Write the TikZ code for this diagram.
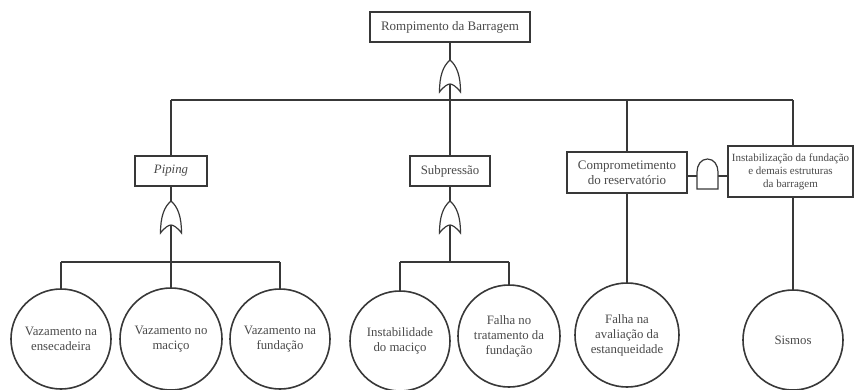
\documentclass[tikz,border=0pt]{standalone}
\usepackage{fontspec}
\setmainfont{Liberation Serif}
\definecolor{ln}{HTML}{383838}
\definecolor{tx}{HTML}{4A4A4A}
\tikzset{
  conn/.style={draw=ln, line width=1.8pt},
  gateline/.style={draw=ln, line width=1.2pt, fill=white},
  evbox/.style={draw=ln, line width=1.8pt, rectangle, fill=white, text=tx, inner sep=0pt, align=center},
  basic/.style={draw=ln, line width=1.6pt, circle, fill=white, text=tx, inner sep=0pt, align=center,
                font=\fontsize{12.8}{15}\selectfont},
}
\begin{document}
\begin{tikzpicture}[x=1pt,y=-1pt]
\useasboundingbox (0,0) rectangle (854,389);
% event boxes
\node[evbox, minimum width=160pt, minimum height=30pt, font=\fontsize{13}{15}\selectfont] (top) at (450,27) {Rompimento da Barragem};
\node[evbox, minimum width=72pt, minimum height=30pt, font=\fontsize{12.8}{15}\selectfont\itshape] (pip) at (171,171) {Piping};
\node[evbox, minimum width=80pt, minimum height=30pt, font=\fontsize{12.8}{15}\selectfont] (sub) at (450,171) {Subpressão};
\node[evbox, minimum width=120pt, minimum height=41pt, font=\fontsize{13}{15}\selectfont] (comp) at (627,172.5) {Comprometimento\\do reservatório};
\node[evbox, minimum width=125pt, minimum height=51pt, font=\fontsize{11}{13}\selectfont] (ins) at (790.5,171.5) {Instabilização da fundação\\e demais estruturas\\da barragem};
% basic events
\node[basic, minimum size=100pt] (c1) at (61,339) {Vazamento na\\ensecadeira};
\node[basic, minimum size=102pt] (c2) at (171,339) {Vazamento no\\maciço};
\node[basic, minimum size=100pt] (c3) at (280,339) {Vazamento na\\fundação};
\node[basic, minimum size=100pt] (c4) at (400,341) {Instabilidade\\do maciço};
\node[basic, minimum size=102pt] (c5) at (509,336) {Falha no\\tratamento da\\fundação};
\node[basic, minimum size=104pt] (c6) at (627,335) {Falha na\\avaliação da\\estanqueidade};
\node[basic, minimum size=100pt] (c7) at (793,340) {Sismos};
% junction coordinates
\coordinate (g1) at (450,60);
\coordinate (g1b) at (450,84);
\coordinate (j1) at (450,100);
\coordinate (jL) at (171,100);
\coordinate (jC) at (627,100);
\coordinate (jR) at (793,100);
\coordinate (g2) at (171,201);
\coordinate (g2b) at (171,225);
\coordinate (j2) at (171,262);
\coordinate (g3) at (450,201);
\coordinate (g3b) at (450,225);
\coordinate (j3) at (450,262);
\coordinate (aL) at (697,176);
\coordinate (aR) at (718,176);
% connectors
\draw[conn] (top.south) -- (g1);
\draw[conn] (jL) -- (jR);
\draw[conn] (jL) -- (pip.north);
\draw[conn] (j1) -- (sub.north);
\draw[conn] (jC) -- (comp.north);
\draw[conn] (jR) -- (jR |- ins.north);
\draw[conn] (pip.south) -- (g2);
\draw[conn] (c1 |- j2) -- (c3 |- j2);
\draw[conn] (c1 |- j2) -- (c1.north);
\draw[conn] (j2) -- (c2.north);
\draw[conn] (c3 |- j2) -- (c3.north);
\draw[conn] (sub.south) -- (g3);
\draw[conn] (c4 |- j3) -- (c5 |- j3);
\draw[conn] (c4 |- j3) -- (c4.north);
\draw[conn] (c5 |- j3) -- (c5.north);
\draw[conn] (comp.south) -- (c6.north);
\draw[conn] (jR |- ins.south) -- (c7.north);
\draw[conn] (comp.east |- aL) -- (aL);
\draw[conn] (aR) -- (ins.west |- aR);
% OR gates
\foreach \g in {g1,g2,g3}{
  \draw[gateline, shift={(\g)}] (0,0) .. controls (7,6) and (10.5,16) .. (10.5,32)
     .. controls (6,26) and (2,24) .. (0,24) .. controls (-2,24) and (-6,26) .. (-10.5,32)
     .. controls (-10.5,16) and (-7,6) .. (0,0) -- cycle;
}
\draw[conn] (g1b) -- (j1);
\draw[conn] (g2b) -- (j2);
\draw[conn] (g3b) -- (j3);
% AND gate
\draw[gateline] (697,189) -- (697,172) .. controls (697,165) and (701,159) .. (707.5,159)
   .. controls (714,159) and (718,165) .. (718,172) -- (718,189) -- cycle;
\end{tikzpicture}
\end{document}
